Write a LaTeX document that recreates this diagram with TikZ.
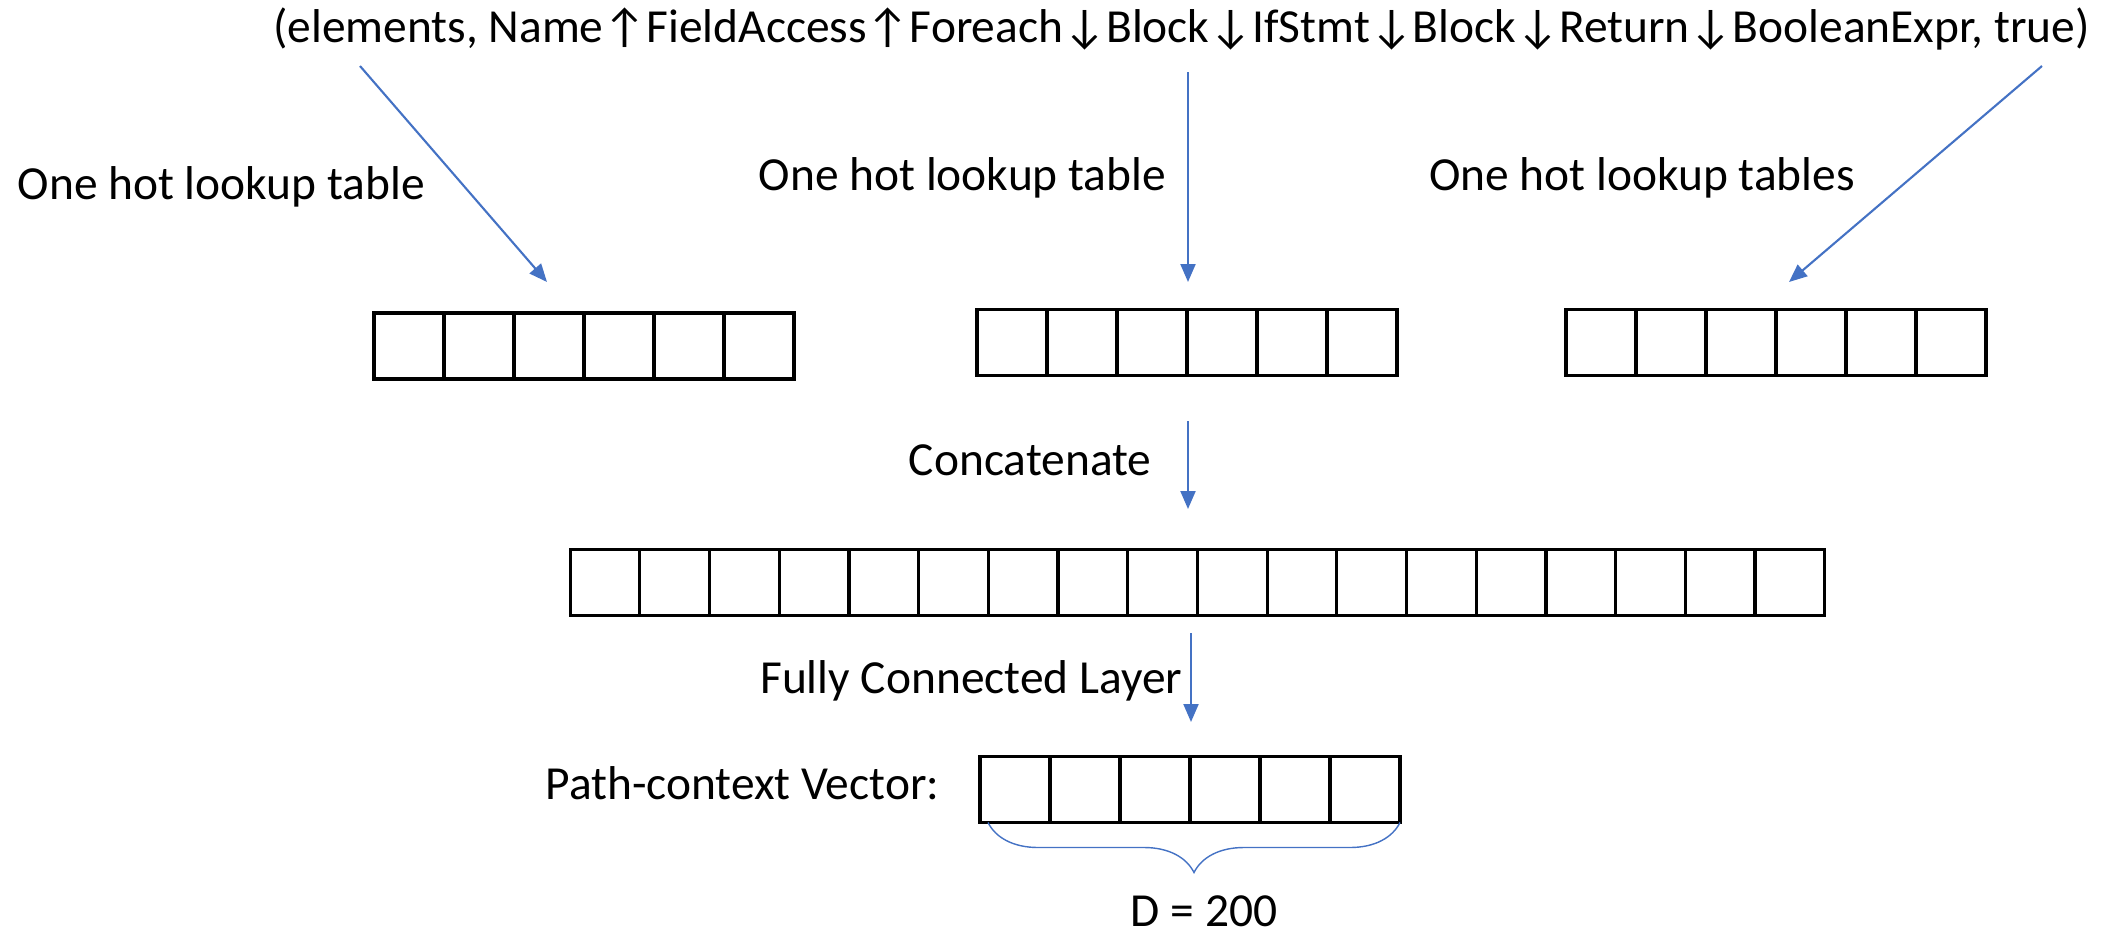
\documentclass[tikz,border=0pt]{standalone}
\usepackage{fontspec}
\setmainfont{Carlito}
\usetikzlibrary{positioning,arrows.meta,decorations.pathreplacing}
\definecolor{linkblue}{HTML}{4472C4}
\tikzset{
  cell/.style={draw, line width=0.9pt, minimum width=0.70cm, minimum height=0.66cm,
    inner sep=0pt, outer sep=0pt},
  flow/.style={draw=linkblue, line width=0.6pt, -{Triangle[length=0.18cm,width=0.15cm]}},
  txt/.style={font=\fontsize{13.5}{16}\selectfont, inner sep=0pt}
}
\begin{document}
\begin{tikzpicture}
  \useasboundingbox (0,0) rectangle (21.18,-9.35);

  % Path context
  \node[txt, anchor=base] (ctx) at (11.815,-0.42)
    {(elements, Name↑FieldAccess↑Foreach↓Block↓IfStmt↓Block↓Return↓BooleanExpr, true)};

  % Lookup labels
  \node[txt, anchor=base west] (lkA) at (0.17,-1.99) {One hot lookup table};
  \node[txt, anchor=base] (lkB) at (9.625,-1.90) {One hot lookup table};
  \node[txt, anchor=base] (lkC) at (16.42,-1.90) {One hot lookup tables};

  % One hot vectors
  \node[cell] (a1) at (4.09,-3.46) {};
  \foreach \i [count=\j] in {2,...,6}
    \node[cell, right=0pt of a\j] (a\i) {};
  \node[cell] (b1) at (10.12,-3.425) {};
  \foreach \i [count=\j] in {2,...,6}
    \node[cell, right=0pt of b\j] (b\i) {};
  \node[cell] (c1) at (16.01,-3.425) {};
  \foreach \i [count=\j] in {2,...,6}
    \node[cell, right=0pt of c\j] (c\i) {};

  % Concatenated vector
  \node[cell, minimum width=0.697cm] (d1) at (6.05,-5.825) {};
  \foreach \i [count=\j] in {2,...,18}
    \node[cell, minimum width=0.697cm, right=0pt of d\j] (d\i) {};

  % Path-context vector
  \node[cell] (v1) at (10.15,-7.895) {};
  \foreach \i [count=\j] in {2,...,6}
    \node[cell, right=0pt of v\j] (v\i) {};

  % Step labels
  \node[txt, anchor=base east] (cat) at (11.52,-4.75) {Concatenate};
  \node[txt, anchor=base east] (fcl) at (11.83,-6.93) {Fully Connected Layer};
  \node[txt, anchor=base east] (vec) at (9.40,-7.99) {Path-context Vector:};
  \node[txt, anchor=base] (dim) at (12.04,-9.26) {D = 200};

  % Arrows
  \coordinate (sA) at (3.60,-0.66);
  \coordinate (tA) at (5.47,-2.82);
  \coordinate (sB) at (11.88,-0.72);
  \coordinate (tB) at (11.88,-2.82);
  \coordinate (sC) at (20.42,-0.66);
  \coordinate (tC) at (17.89,-2.82);
  \coordinate (sD) at (11.88,-4.21);
  \coordinate (tD) at (11.88,-5.09);
  \coordinate (sE) at (11.91,-6.33);
  \coordinate (tE) at (11.91,-7.22);
  \draw[flow] (sA) -- (tA);
  \draw[flow] (sB) -- (tB);
  \draw[flow] (sC) -- (tC);
  \draw[flow] (sD) -- (tD);
  \draw[flow] (sE) -- (tE);

  % Dimension brace
  \draw[linkblue, line width=0.4pt, decorate, decoration={brace, mirror, amplitude=0.5cm}]
    ([xshift=0.08cm]v1.south west) -- (v6.south east);
\end{tikzpicture}
\end{document}
